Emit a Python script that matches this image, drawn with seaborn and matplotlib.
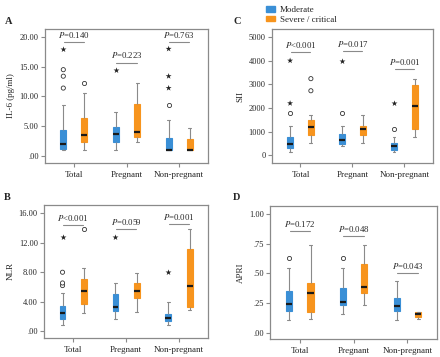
import matplotlib.pyplot as plt
import numpy as np
import pandas as pd
import seaborn as sns
from matplotlib.patches import Patch
from matplotlib.ticker import FuncFormatter

groups = ["Total", "Pregnant", "Non-pregnant"]
severity = ["Moderate", "Severe / critical"]
colors = {"Moderate": "#3a8fd6", "Severe / critical": "#f7941d"}

# box summaries per group: low whisker, Q1, median, Q3, high whisker
il6_moderate = [[1.0, 1.15, 2.0, 4.4, 8.5], [1.0, 2.3, 3.7, 4.85, 7.4], [1.0, 1.0, 1.0, 3.05, 6.0]]
il6_severe = [[1.0, 2.4, 3.45, 6.3, 10.5], [2.4, 3.1, 4.0, 8.7, 12.2], [1.0, 1.0, 1.0, 2.8, 4.75]]
il6_circles = [("Total", "Moderate", 11.4), ("Total", "Moderate", 13.4), ("Total", "Moderate", 14.5),
               ("Total", "Severe / critical", 12.2), ("Non-pregnant", "Moderate", 8.5)]
il6_stars = [("Total", "Moderate", 18.0), ("Pregnant", "Moderate", 14.5),
             ("Non-pregnant", "Moderate", 11.4), ("Non-pregnant", "Moderate", 13.4),
             ("Non-pregnant", "Moderate", 18.0)]
il6_p = ["$P$=0.140", "$P$=0.223", "$P$=0.763"]
il6_p_height = [19.1, 15.7, 19.1]

nlr_moderate = [[0.82, 1.72, 2.5, 3.4, 5.2], [1.68, 2.7, 3.3, 5.1, 6.5], [0.82, 1.36, 1.86, 2.4, 4.0]]
nlr_severe = [[2.5, 3.76, 5.4, 7.1, 8.6], [2.6, 4.5, 5.4, 6.6, 7.9], [2.95, 3.3, 6.2, 11.15, 13.8]]
nlr_circles = [("Total", "Moderate", 6.2), ("Total", "Moderate", 6.55), ("Total", "Moderate", 8.0),
               ("Total", "Severe / critical", 13.8)]
nlr_stars = [("Total", "Moderate", 12.8), ("Pregnant", "Moderate", 12.8), ("Non-pregnant", "Moderate", 8.0)]
nlr_p = ["$P$<0.001", "$P$=0.059", "$P$=0.001"]
nlr_p_height = [14.4, 13.8, 14.5]

sii_moderate = [[150, 310, 490, 760, 1225], [380, 480, 650, 890, 1225], [150, 250, 410, 520, 800]]
sii_severe = [[520, 870, 1200, 1480, 1690], [520, 870, 1130, 1250, 1690], [800, 1110, 2100, 2970, 3240]]
sii_circles = [("Total", "Moderate", 1800), ("Total", "Severe / critical", 2730),
               ("Total", "Severe / critical", 3240), ("Pregnant", "Moderate", 1800),
               ("Non-pregnant", "Moderate", 1110)]
sii_stars = [("Total", "Moderate", 2200), ("Total", "Moderate", 4000), ("Pregnant", "Moderate", 4000),
             ("Non-pregnant", "Moderate", 2200)]
sii_p = ["$P$<0.001", "$P$=0.017", "$P$=0.001"]
sii_p_height = [4365, 4400, 3660]

apri_moderate = [[0.11, 0.19, 0.245, 0.355, 0.545], [0.16, 0.24, 0.265, 0.38, 0.545], [0.11, 0.19, 0.23, 0.295, 0.44]]
apri_severe = [[0.12, 0.18, 0.34, 0.42, 0.74], [0.24, 0.335, 0.385, 0.58, 0.74], [0.12, 0.14, 0.16, 0.175, 0.18]]
apri_circles = [("Total", "Moderate", 0.63), ("Pregnant", "Moderate", 0.63)]
apri_stars = []
apri_p = ["$P$=0.172", "$P$=0.048", "$P$=0.043"]
apri_p_height = [0.854, 0.81, 0.504]

sns.set_style("ticks")
plt.rcParams["font.family"] = ["Liberation Serif", "DejaVu Serif"]
plt.rcParams["mathtext.fontset"] = "stix"

GRAY = "#8a8a8a"


def dec_fmt(v, pos):
    s = f"{v:.2f}"
    return s[1:] if s.startswith("0.") else s


def int_fmt(v, pos):
    return f"{v:.0f}"


def box_frame(moderate, severe):
    rows = []
    for g, m, s in zip(groups, moderate, severe):
        rows += [(g, "Moderate", v) for v in m]
        rows += [(g, "Severe / critical", v) for v in s]
    return pd.DataFrame(rows, columns=["group", "severity", "value"])


def draw_panel(ax, moderate, severe, circles, stars, p_text, p_height, ylabel, ylim, yticks, fmt):
    df = box_frame(moderate, severe)
    sns.boxplot(data=df, x="group", y="value", hue="severity", order=groups, hue_order=severity,
                palette=colors, saturation=1, width=0.8, gap=0.72, whis=(0, 100), linecolor=GRAY,
                linewidth=0.8, medianprops=dict(color="#1a1a1a", linewidth=1.6), legend=False, ax=ax)
    for p in ax.patches:
        p.set_edgecolor(p.get_facecolor())

    if circles:
        cdf = pd.DataFrame(circles, columns=["group", "severity", "value"])
        sns.stripplot(data=cdf, x="group", y="value", hue="severity", order=groups, hue_order=severity,
                      dodge=True, jitter=False, palette={s: "white" for s in severity}, marker="o",
                      size=3, edgecolor="#333333", linewidth=0.6, legend=False, ax=ax)
    if stars:
        sdf = pd.DataFrame(stars, columns=["group", "severity", "value"])
        sns.stripplot(data=sdf, x="group", y="value", hue="severity", order=groups, hue_order=severity,
                      dodge=True, jitter=False, palette={s: "#222222" for s in severity}, marker="*",
                      size=4.5, linewidth=0, legend=False, ax=ax)

    for i, (txt, h) in enumerate(zip(p_text, p_height)):
        ax.plot([i - 0.19, i + 0.19], [h, h], color=GRAY, lw=0.8)
        ax.annotate(txt, (i, h), xytext=(0, 1.5), textcoords="offset points",
                    ha="center", va="bottom", fontsize=6.3)

    ax.set_xlim(-0.55, 2.55)
    ax.set_ylim(*ylim)
    ax.set_yticks(yticks)
    ax.yaxis.set_major_formatter(FuncFormatter(fmt))
    ax.set_xlabel("")
    ax.set_ylabel(ylabel, fontsize=6.5, labelpad=3)
    for s in ax.spines.values():
        s.set_visible(True)
        s.set_color(GRAY)
        s.set_linewidth(0.9)
    ax.tick_params(direction="out", length=3, width=0.8, color=GRAY, pad=1.5)
    ax.tick_params(axis="y", labelsize=6)
    ax.tick_params(axis="x", labelsize=6.5, pad=2.5)


fig = plt.figure(figsize=(4.4, 3.57), dpi=100)
ax_a = fig.add_axes([0.102, 0.543, 0.371, 0.376])
ax_c = fig.add_axes([0.618, 0.543, 0.366, 0.376])
ax_b = fig.add_axes([0.100, 0.053, 0.373, 0.373])
ax_d = fig.add_axes([0.614, 0.050, 0.379, 0.372])

draw_panel(ax_a, il6_moderate, il6_severe, il6_circles, il6_stars, il6_p, il6_p_height,
           "IL-6 (pg/ml)", (-1.24, 21.36), [0, 5, 10, 15, 20], dec_fmt)
draw_panel(ax_b, nlr_moderate, nlr_severe, nlr_circles, nlr_stars, nlr_p, nlr_p_height,
           "NLR", (-0.9, 17.1), [0, 4, 8, 12, 16], dec_fmt)
draw_panel(ax_c, sii_moderate, sii_severe, sii_circles, sii_stars, sii_p, sii_p_height,
           "SII", (-324, 5338), [0, 1000, 2000, 3000, 4000, 5000], int_fmt)
draw_panel(ax_d, apri_moderate, apri_severe, apri_circles, apri_stars, apri_p, apri_p_height,
           "APRI", (-0.048, 1.06), [0, 0.25, 0.5, 0.75, 1.0], dec_fmt)

for letter, x, y in [("A", 5, 21), ("C", 233, 21), ("B", 4, 197), ("D", 233, 197)]:
    fig.text(x / 440, 1 - y / 357, letter, fontsize=7.5, fontweight="bold", va="center")

handles = [Patch(facecolor=colors[s], edgecolor=colors[s], label=s) for s in severity]
fig.legend(handles=handles, loc="upper left", bbox_to_anchor=(260 / 440, 1.0), frameon=False,
           fontsize=6.5, handlelength=1.0, handleheight=0.6, handletextpad=0.5,
           labelspacing=0.15, borderpad=0.2)

fig.savefig("out.png", dpi=100)
